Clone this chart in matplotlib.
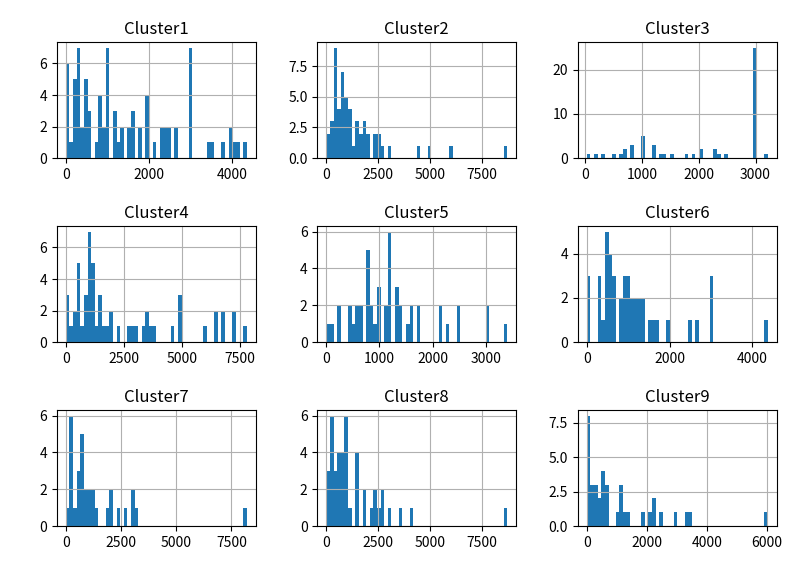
import numpy as np
import matplotlib
matplotlib.use('Agg')
import matplotlib.pyplot as plt

plt.rcParams['font.family'] = ['Noto Sans CJK SC', 'DejaVu Sans']

# histogram counts per cluster, 50 equal bins between x_min and x_max
names = ['Cluster1', 'Cluster2', 'Cluster3', 'Cluster4', 'Cluster5',
         'Cluster6', 'Cluster7', 'Cluster8', 'Cluster9']
x_min = [0, 20, 25, 0, 10, 0, 0, 20, 0]
x_max = [4360, 8740, 3215, 7800, 3388, 4375, 8196, 8740, 6020]

c1 = [6, 1, 5, 7, 2, 5, 3, 0, 1, 4, 2, 7, 0, 3, 1, 2, 0, 2, 3, 0,
      2, 0, 4, 0, 1, 0, 2, 2, 2, 0, 2, 0, 0, 0, 7, 0, 0, 0, 0, 1,
      1, 0, 0, 1, 0, 2, 1, 1, 0, 1]
c2 = [2, 3, 9, 4, 7, 5, 4, 1, 3, 2, 3, 2, 0, 2, 2, 1, 0, 1, 0, 0,
      0, 0, 0, 0, 0, 1, 0, 0, 1, 0, 0, 0, 0, 0, 1, 0, 0, 0, 0, 0,
      0, 0, 0, 0, 0, 0, 0, 0, 0, 1]
c3 = [1, 0, 1, 0, 1, 0, 0, 1, 0, 1, 2, 0, 3, 0, 0, 5, 0, 0, 3, 0,
      1, 1, 0, 1, 0, 0, 0, 1, 0, 1, 0, 2, 0, 0, 0, 2, 1, 0, 1, 0,
      0, 0, 0, 0, 0, 0, 25, 0, 0, 1]
c4 = [3, 1, 2, 5, 1, 3, 7, 5, 1, 3, 1, 1, 2, 0, 1, 0, 0, 1, 1, 1,
      0, 1, 2, 1, 1, 0, 0, 0, 0, 1, 0, 3, 0, 0, 0, 0, 0, 0, 1, 0,
      0, 2, 0, 2, 0, 0, 2, 0, 0, 1]
c5 = [1, 1, 0, 2, 0, 0, 2, 1, 2, 2, 0, 5, 2, 1, 3, 0, 2, 6, 0, 3,
      2, 0, 1, 2, 0, 2, 0, 0, 0, 0, 0, 2, 0, 1, 0, 0, 2, 0, 0, 0,
      0, 0, 0, 0, 2, 0, 0, 0, 0, 1]
c6 = [3, 0, 0, 3, 1, 5, 4, 3, 0, 2, 3, 3, 2, 2, 2, 2, 0, 1, 1, 1,
      0, 0, 1, 0, 0, 0, 0, 0, 1, 0, 1, 0, 0, 0, 3, 0, 0, 0, 0, 0,
      0, 0, 0, 0, 0, 0, 0, 0, 0, 1]
c7 = [1, 6, 1, 3, 5, 2, 2, 2, 1, 0, 0, 1, 2, 0, 1, 0, 1, 0, 2, 1,
      0, 0, 0, 0, 0, 0, 0, 0, 0, 0, 0, 0, 0, 0, 0, 0, 0, 0, 0, 0,
      0, 0, 0, 0, 0, 0, 0, 0, 0, 1]
c8 = [3, 6, 3, 4, 4, 6, 1, 0, 4, 0, 2, 0, 1, 2, 1, 2, 0, 1, 0, 0,
      1, 0, 0, 1, 0, 0, 0, 0, 0, 0, 0, 0, 0, 0, 0, 0, 0, 0, 0, 0,
      0, 0, 0, 0, 0, 0, 0, 0, 0, 1]
c9 = [8, 3, 3, 2, 4, 3, 0, 0, 1, 3, 1, 1, 0, 0, 0, 1, 0, 1, 2, 0,
      1, 0, 0, 0, 1, 0, 0, 1, 1, 0, 0, 0, 0, 0, 0, 0, 0, 0, 0, 0,
      0, 0, 0, 0, 0, 0, 0, 0, 0, 1]
counts = [c1, c2, c3, c4, c5, c6, c7, c8, c9]

fig, axes = plt.subplots(3, 3, figsize=(8, 5.7), dpi=100)
fig.subplots_adjust(left=0.071, right=0.971, bottom=0.077, top=0.926,
                    wspace=0.309, hspace=0.586)

for ax, name, lo, hi, c in zip(axes.flat, names, x_min, x_max, counts):
    edges = np.linspace(lo, hi, len(c) + 1)
    mids = (edges[:-1] + edges[1:]) / 2
    ax.hist(mids, bins=edges, weights=c)
    ax.set_title(name, fontsize=12)
    ax.grid(True)
    ax.tick_params(labelsize=10)

plt.savefig('out.png')
